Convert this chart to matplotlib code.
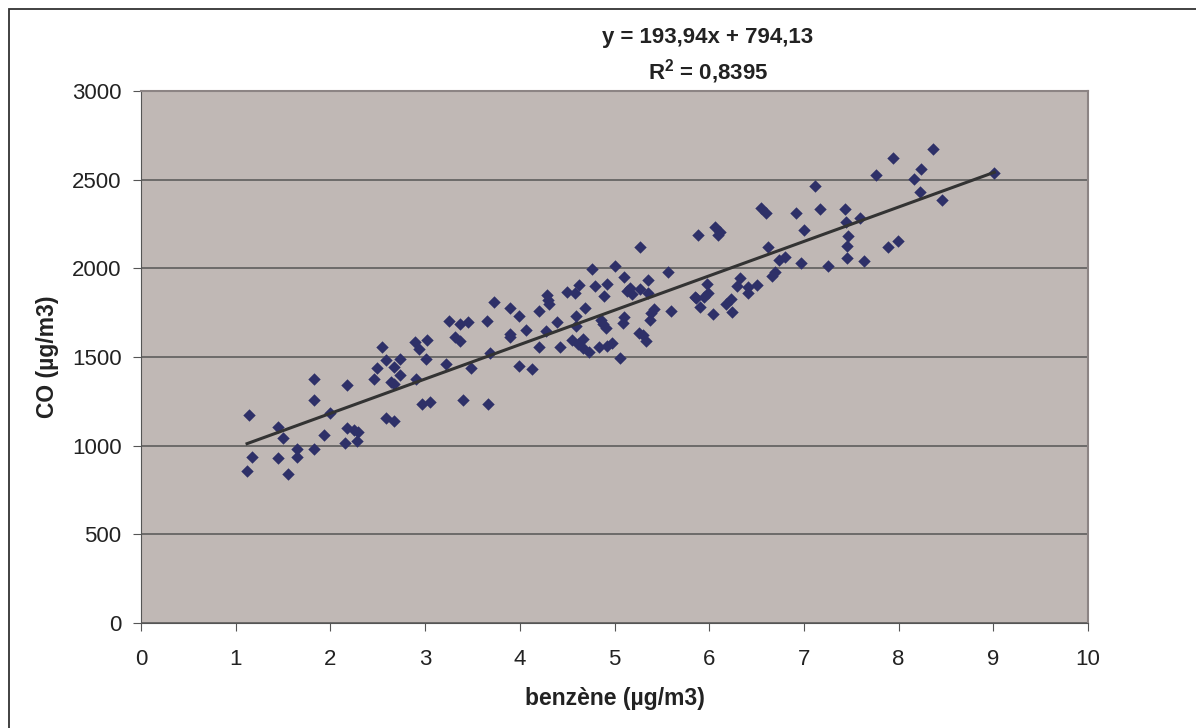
import matplotlib.pyplot as plt
import numpy as np

plt.rcParams['font.family'] = ['Liberation Sans', 'DejaVu Sans']
plt.rcParams['mathtext.fontset'] = 'custom'
plt.rcParams['mathtext.rm'] = 'Liberation Sans'
plt.rcParams['mathtext.bf'] = 'Liberation Sans:bold'

# benzène (µg/m3) vs CO (µg/m3)
benzene = [1.14, 1.12, 1.17, 1.45, 1.50, 1.45, 1.55, 1.65, 1.65, 1.83,
           1.83, 1.83, 1.93, 2.00, 2.18, 2.18, 2.15, 2.25, 2.29, 2.28,
           2.46, 2.49, 2.54, 2.59, 2.59, 2.67, 2.67, 2.64, 2.67, 2.74,
           2.73, 2.89, 2.94, 3.02, 3.01, 2.90, 2.97, 3.05, 3.22, 3.25,
           3.32, 3.37, 3.37, 3.45, 3.48, 3.40, 3.65, 3.66, 3.69, 3.73,
           3.90, 3.99, 3.90, 3.90, 3.99, 4.13, 4.07, 4.20, 4.20, 4.29,
           4.30, 4.31, 4.28, 4.39, 4.42, 4.50, 4.58, 4.59, 4.59, 4.63,
           4.69, 4.55, 4.61, 4.67, 4.67, 4.73, 4.76, 4.79, 4.89, 4.92,
           4.86, 4.88, 4.91, 4.84, 4.92, 4.97, 5.00, 5.06, 5.10, 5.09,
           5.10, 5.13, 5.16, 5.19, 5.27, 5.27, 5.35, 5.35, 5.26, 5.30,
           5.33, 5.37, 5.39, 5.42, 5.57, 5.60, 5.88, 6.06, 6.09, 6.11,
           5.98, 5.99, 5.86, 5.90, 5.94, 6.04, 6.18, 6.23, 6.24, 5.85,
           6.55, 6.60, 6.92, 7.12, 7.17, 7.43, 7.44, 7.59, 7.47, 7.45,
           7.45, 7.63, 7.00, 6.97, 7.25, 6.62, 6.74, 6.80, 6.66, 6.69,
           6.33, 6.29, 6.41, 6.41, 6.51, 7.76, 7.94, 8.36, 8.24, 8.16,
           8.23, 8.46, 7.89, 7.99, 9.01]
co = [1175, 857, 936, 1107, 1043, 929, 840, 983, 936, 1378,
      1256, 981, 1062, 1186, 1342, 1098, 1017, 1087, 1079, 1025,
      1378, 1438, 1555, 1485, 1158, 1442, 1141, 1357, 1348, 1490,
      1398, 1585, 1547, 1598, 1487, 1378, 1235, 1246, 1459, 1705,
      1611, 1686, 1590, 1696, 1438, 1256, 1705, 1237, 1524, 1812,
      1775, 1731, 1628, 1614, 1451, 1432, 1652, 1555, 1759, 1850,
      1821, 1799, 1647, 1696, 1555, 1865, 1863, 1731, 1675, 1908,
      1775, 1596, 1573, 1601, 1549, 1526, 1996, 1900, 1844, 1910,
      1709, 1684, 1665, 1558, 1562, 1581, 2015, 1496, 1953, 1693,
      1727, 1874, 1891, 1855, 2119, 1882, 1934, 1859, 1637, 1624,
      1590, 1709, 1746, 1769, 1978, 1759, 2190, 2235, 2188, 2207,
      1910, 1863, 1831, 1784, 1837, 1741, 1799, 1827, 1755, 1840,
      2338, 2310, 2314, 2464, 2333, 2333, 2263, 2282, 2182, 2128,
      2058, 2041, 2216, 2032, 2013, 2122, 2047, 2066, 1957, 1981,
      1944, 1900, 1893, 1859, 1908, 2526, 2620, 2675, 2560, 2504,
      2429, 2385, 2119, 2154, 2536]

slope = 193.94
intercept = 794.13
r2 = 0.8395

fig = plt.figure(figsize=(11.96, 7.28), dpi=100)
ax = fig.add_axes([141 / 1196, 1 - 623 / 728, (1088 - 141) / 1196, (623 - 91) / 728])

# outer chart frame (runs off the right and bottom edges)
fig.patches.append(plt.Rectangle((9 / 1196, -10 / 728), 1200 / 1196, 729 / 728,
                                 transform=fig.transFigure, fill=False,
                                 edgecolor='#333333', linewidth=1.3))

ax.set_facecolor('#c0b8b5')
ax.set_xlim(0, 10)
ax.set_ylim(0, 3000)
ax.set_xticks(range(0, 11))
ax.set_yticks(range(0, 3001, 500))
ax.yaxis.grid(True, color='#555555', linewidth=1.1)
ax.set_axisbelow(True)
for s in ['top', 'right']:
    ax.spines[s].set_color('#8c8484')
    ax.spines[s].set_linewidth(1.5)
for s in ['left', 'bottom']:
    ax.spines[s].set_color('#555555')
ax.tick_params(axis='both', labelsize=16, colors='#222222', length=6,
               direction='out', color='#555555')
ax.tick_params(axis='x', pad=13)
ax.tick_params(axis='y', pad=8)

ax.scatter(benzene, co, marker='D', s=40, color='#2e3068', zorder=3, linewidths=0)

xfit = np.array([min(benzene), max(benzene)])
ax.plot(xfit, slope * xfit + intercept, color='#333333', linewidth=2.2, zorder=4)

ax.set_xlabel('benzène (µg/m3)', fontsize=16.5, fontweight='bold', labelpad=12,
              color='#222222')
ax.set_ylabel('CO (µg/m3)', fontsize=16.5, fontweight='bold', labelpad=9,
              color='#222222')

fig.text(708 / 1196, 1 - 38 / 728, 'y = 193,94x + 794,13', ha='center', va='center',
         fontsize=16, fontweight='bold', color='#222222')
fig.text(708 / 1196, 1 - 72 / 728, r'$\mathbf{R^2}$ = 0,8395', ha='center', va='center',
         fontsize=16, fontweight='bold', color='#222222')

fig.savefig('out.png', dpi=100)
